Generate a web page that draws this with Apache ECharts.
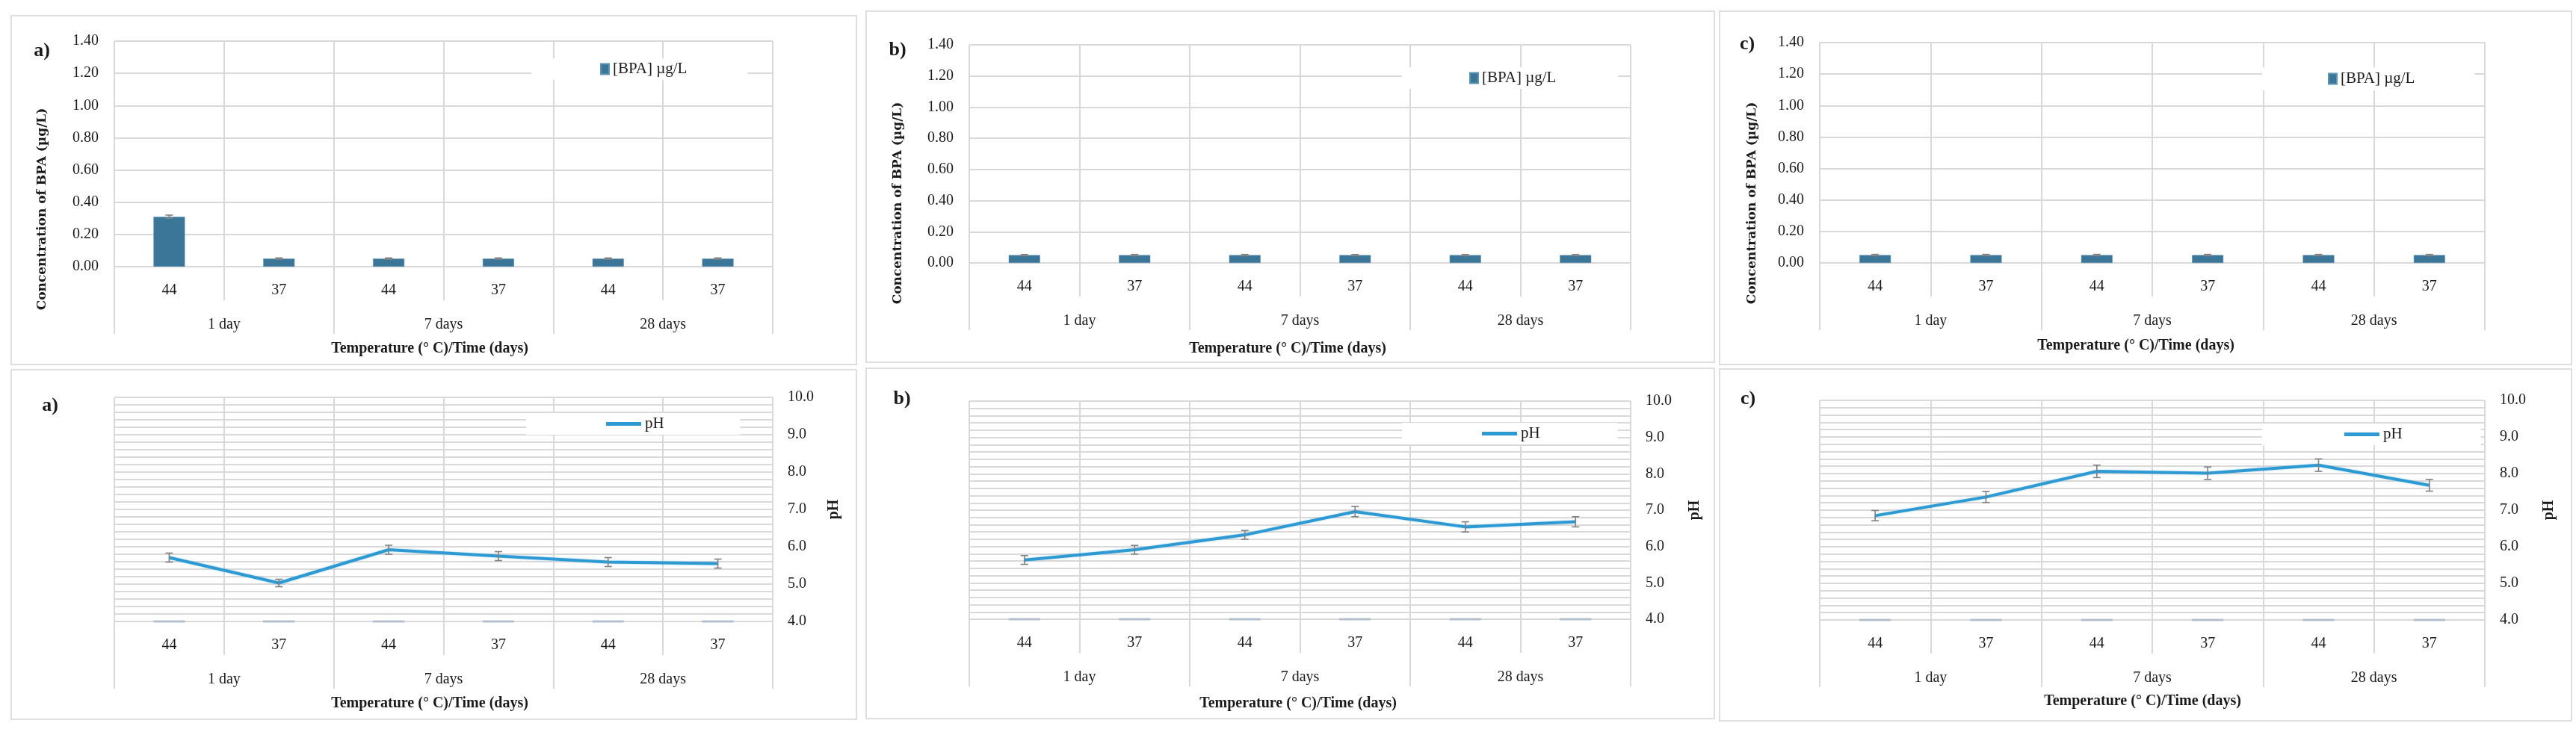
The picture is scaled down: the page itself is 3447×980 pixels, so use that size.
<!DOCTYPE html>
<html>
<head>
<meta charset="utf-8">
<script src="https://cdn.jsdelivr.net/npm/echarts@6/dist/echarts.min.js"></script>
<style>
html,body{margin:0;padding:0;background:#fff;}
#chart{width:3447px;height:980px;}
</style>
</head>
<body>
<div id="chart"></div>
<script>
// ---------------- DATA ----------------
const tempLabels = ['44', '37', '44', '37', '44', '37'];
const timeLabels = ['1 day', '7 days', '28 days'];

const bpaName = '[BPA] µg/L';
const phName = 'pH';

const bpaA = [0.31, 0.05, 0.05, 0.05, 0.05, 0.05];
const bpaErrA = [0.01, 0.004, 0.004, 0.004, 0.004, 0.004];
const bpaB = [0.05, 0.05, 0.05, 0.05, 0.05, 0.05];
const bpaErrB = [0.004, 0.004, 0.004, 0.004, 0.004, 0.004];
const bpaC = [0.05, 0.05, 0.05, 0.05, 0.05, 0.05];
const bpaErrC = [0.004, 0.004, 0.004, 0.004, 0.004, 0.004];

const phA = [5.71, 5.03, 5.92, 5.75, 5.59, 5.55];
const phErrA = [0.12, 0.10, 0.12, 0.12, 0.12, 0.12];
const phB = [5.63, 5.91, 6.32, 6.96, 6.54, 6.68];
const phErrB = [0.12, 0.12, 0.12, 0.14, 0.14, 0.14];
const phC = [6.85, 7.36, 8.06, 8.01, 8.23, 7.68];
const phErrC = [0.14, 0.15, 0.17, 0.17, 0.17, 0.16];

// baseline marks of the empty series drawn at the pH axis minimum
const phBaseline = [4.0, 4.0, 4.0, 4.0, 4.0, 4.0];

const bpaAxisMin = 0, bpaAxisMax = 1.4, bpaAxisStep = 0.2;
const phAxisMin = 4, phAxisMax = 10, phAxisStep = 1, phMinorSplits = 5;

const panelLetters = ['a)', 'b)', 'c)'];
const xTitleText = 'Temperature (° C)/Time (days)';
const bpaTitleText = 'Concentration of BPA (µg/L)';
const phTitleText = 'pH';

// ---------------- STYLE / LAYOUT ----------------
const SERIF = '"Liberation Serif", "Times New Roman", serif';
const GRID_GRAY = '#d9d9d9';
const TEXT = '#1a1a1a';
const BAR_COLOR = '#3b7699';
const LINE_COLOR = '#2e9ad4';
const ERR_COLOR = '#808080';

const panels = [
  {kind:'bpa', vals:bpaA, errs:bpaErrA, letter:panelLetters[0], border:[15,21,1131,467], grid:{left:153,top:55,width:881,height:302}, letterPos:[56,68], xTitle:[575,467], yTitle:[57,280], legend:{left:711,top:78,pad:[4,81,4,92]}},
  {kind:'bpa', vals:bpaB, errs:bpaErrB, letter:panelLetters[1], border:[1159,15,1135,470], grid:{left:1297,top:60,width:885,height:292}, letterPos:[1201,67], xTitle:[1723,467], yTitle:[1202,272], legend:{left:1876,top:90,pad:[4,83,4,90]}},
  {kind:'bpa', vals:bpaC, errs:bpaErrC, letter:panelLetters[2], border:[2301,15,1140,473], grid:{left:2435,top:57,width:890,height:295}, letterPos:[2338,59], xTitle:[2858,463], yTitle:[2345,272], legend:{left:3027,top:90,pad:[5,80,5,88]}},
  {kind:'ph', vals:phA, errs:phErrA, letter:panelLetters[0], border:[15,495,1131,468], grid:{left:153,top:532,width:881,height:300}, letterPos:[67,543], xTitle:[575,942], yTitle:[1116,682], legend:{left:704,top:553,pad:[4,102,4,107]}},
  {kind:'ph', vals:phB, errs:phErrB, letter:panelLetters[1], border:[1159,493,1135,469], grid:{left:1297,top:537,width:885,height:292}, letterPos:[1207,534], xTitle:[1737,942], yTitle:[2268,683], legend:{left:1876,top:566,pad:[4,104,4,107]}},
  {kind:'ph', vals:phC, errs:phErrC, letter:panelLetters[2], border:[2301,494,1140,471], grid:{left:2435,top:536,width:890,height:294}, letterPos:[2339,534], xTitle:[2867,939], yTitle:[3411,683], legend:{left:3027,top:567,pad:[4,105,4,110]}}
];

function errorBarRenderer(capHalf) {
  return function (params, api) {
    const x = api.value(0), v = api.value(1), e = api.value(2);
    const hi = api.coord([x, v + e]);
    const lo = api.coord([x, v - e]);
    const st = {stroke: ERR_COLOR, lineWidth: 1.6};
    return {
      type: 'group',
      children: [
        {type:'line', shape:{x1:hi[0], y1:hi[1], x2:lo[0], y2:lo[1]}, style:st},
        {type:'line', shape:{x1:hi[0]-capHalf, y1:hi[1], x2:hi[0]+capHalf, y2:hi[1]}, style:st},
        {type:'line', shape:{x1:lo[0]-capHalf, y1:lo[1], x2:lo[0]+capHalf, y2:lo[1]}, style:st}
      ]
    };
  };
}

const option = {
  backgroundColor: '#fff',
  animation: false,
  grid: [], xAxis: [], yAxis: [], series: [], legend: [], graphic: []
};

panels.forEach((p, k) => {
  option.grid.push(Object.assign({containLabel:false}, p.grid));
  const gline = {color: GRID_GRAY, width: 2};
  option.xAxis.push({
    gridIndex: k, type: 'category', data: tempLabels, position: 'bottom',
    axisLine: {show: true, lineStyle: gline},
    axisTick: {show: true, length: 45, lineStyle: gline},
    axisLabel: {margin: 22, fontFamily: SERIF, fontSize: 20, color: TEXT},
    splitLine: {show: true, lineStyle: gline}
  });
  option.xAxis.push({
    gridIndex: k, type: 'category', data: timeLabels, position: 'bottom',
    axisLine: {show: false},
    axisTick: {show: true, length: 90, lineStyle: gline},
    axisLabel: {margin: 68, fontFamily: SERIF, fontSize: 20, color: TEXT},
    splitLine: {show: false}
  });
  if (p.kind === 'bpa') {
    option.yAxis.push({
      gridIndex: k, type: 'value', position: 'left',
      min: bpaAxisMin, max: bpaAxisMax, interval: bpaAxisStep,
      axisLine: {show: false}, axisTick: {show: false},
      axisLabel: {margin: 21, fontFamily: SERIF, fontSize: 20, color: TEXT, formatter: v => v.toFixed(2)},
      splitLine: {show: true, lineStyle: gline}
    });
    option.series.push({
      name: bpaName, type: 'bar', xAxisIndex: 2*k, yAxisIndex: k,
      data: p.vals, barWidth: 42,
      itemStyle: {color: BAR_COLOR, borderColor: '#5d93b4', borderWidth: 0.5}
    });
    option.series.push({
      type: 'custom', xAxisIndex: 2*k, yAxisIndex: k, z: 5,
      renderItem: errorBarRenderer(5),
      encode: {x: 0, y: 1},
      data: p.vals.map((v, i) => [i, v, p.errs[i]])
    });
    option.legend.push({
      data: [bpaName], left: p.legend.left, top: p.legend.top,
      padding: p.legend.pad, backgroundColor: '#fff',
      itemWidth: 11, itemHeight: 14, icon: 'rect',
      textStyle: {fontFamily: SERIF, fontSize: 21, color: TEXT}
    });
    option.graphic.push({
      type: 'text', x: p.yTitle[0], y: p.yTitle[1], rotation: Math.PI/2,
      style: {text: bpaTitleText, fill: TEXT, font: 'bold 17px "DejaVu Serif"', align: 'center', verticalAlign: 'middle'}
    });
  } else {
    option.yAxis.push({
      gridIndex: k, type: 'value', position: 'right',
      min: phAxisMin, max: phAxisMax, interval: phAxisStep,
      axisLine: {show: false}, axisTick: {show: false},
      minorTick: {show: false, splitNumber: phMinorSplits},
      minorSplitLine: {show: true, lineStyle: gline},
      axisLabel: {margin: 20, fontFamily: SERIF, fontSize: 20, color: TEXT, formatter: v => v.toFixed(1)},
      splitLine: {show: true, lineStyle: gline}
    });
    option.series.push({
      type: 'scatter', xAxisIndex: 2*k, yAxisIndex: k, z: 3,
      symbol: 'rect', symbolSize: [42, 3],
      itemStyle: {color: '#a8b7c5'},
      data: phBaseline
    });
    option.series.push({
      name: phName, type: 'line', xAxisIndex: 2*k, yAxisIndex: k,
      data: p.vals, symbol: 'none', z: 4,
      lineStyle: {color: LINE_COLOR, width: 4, shadowColor: 'rgba(46,154,212,0.35)', shadowBlur: 3},
      itemStyle: {color: LINE_COLOR}
    });
    option.series.push({
      type: 'custom', xAxisIndex: 2*k, yAxisIndex: k, z: 6,
      renderItem: errorBarRenderer(5),
      encode: {x: 0, y: 1},
      data: p.vals.map((v, i) => [i, v, p.errs[i]])
    });
    option.legend.push({
      data: [phName], left: p.legend.left, top: p.legend.top,
      padding: p.legend.pad, backgroundColor: '#fff',
      icon: 'rect', itemWidth: 47, itemHeight: 5,
      itemStyle: {color: LINE_COLOR, borderWidth: 0},
      textStyle: {fontFamily: SERIF, fontSize: 21, color: TEXT}
    });
    option.graphic.push({
      type: 'text', x: p.yTitle[0], y: p.yTitle[1], rotation: Math.PI/2,
      style: {text: phTitleText, fill: TEXT, font: 'bold 20px "Liberation Serif"', align: 'center', verticalAlign: 'middle'}
    });
  }
  // panel border
  option.graphic.push({
    type: 'rect', shape: {x: p.border[0], y: p.border[1], width: p.border[2], height: p.border[3]},
    style: {fill: 'none', stroke: '#dedede', lineWidth: 2}, silent: true
  });
  // panel letter
  option.graphic.push({
    type: 'text', x: p.letterPos[0], y: p.letterPos[1],
    style: {text: p.letter, fill: TEXT, font: 'bold 26px "Liberation Serif"', align: 'center', verticalAlign: 'middle'}
  });
  // x axis title
  option.graphic.push({
    type: 'text', x: p.xTitle[0], y: p.xTitle[1],
    style: {text: xTitleText, fill: TEXT, font: 'bold 20px "Liberation Serif"', align: 'center', verticalAlign: 'middle'}
  });
});

const chart = echarts.init(document.getElementById('chart'), null, {renderer: 'canvas'});
chart.setOption(option);
</script>
</body>
</html>
